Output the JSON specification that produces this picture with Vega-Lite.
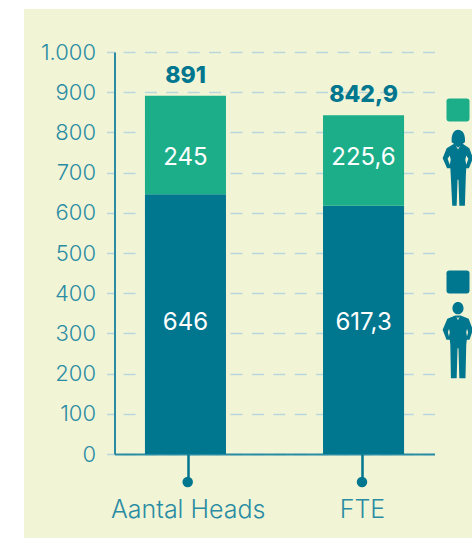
{
"$schema":"https://vega.github.io/schema/vega-lite/v6.json",
"width":448,"height":529,
"autosize":{"type":"none"},
"padding":{"left":24,"top":9,"right":0,"bottom":0},
"background":"#ffffff",
"config":{"view":{"fill":"#f2f4d6","stroke":null},"font":"Inter"},
"datasets":{
"bars":[
{"category":"Aantal Heads","series":"Man","value":646,"label":"646"},
{"category":"Aantal Heads","series":"Vrouw","value":245,"label":"245"},
{"category":"FTE","series":"Man","value":617.3,"label":"617,3"},
{"category":"FTE","series":"Vrouw","value":225.6,"label":"225,6"}],
"totals":[
{"category":"Aantal Heads","total":891,"label":"891"},
{"category":"FTE","total":842.9,"label":"842,9"}]
},
"resolve":{"scale":{"x":"independent"},"axis":{"x":"independent"}},
"layer":[
{"layer":[
{"data":{"name":"bars"},
 "mark":{"type":"bar"},
 "encoding":{
  "x":{"field":"category","type":"nominal","sort":["Aantal Heads","FTE"],
   "scale":{"type":"band","range":[90.5,410.5],"paddingInner":0.545,"paddingOuter":0.171},
   "axis":{"title":null,"labels":false,"ticks":false,"domain":true,"domainColor":"#2a8ca3","domainWidth":2,"offset":-84,"orient":"bottom"}},
  "y":{"field":"value","type":"quantitative","stack":"zero",
   "scale":{"domain":[0,1000],"range":[445,43],"nice":false},
   "axis":{"title":null,"values":[0,100,200,300,400,500,600,700,800,900,1000],"offset":-90.5,"orient":"left",
    "domain":true,"domainColor":"#2a8ca3","domainWidth":2,
    "ticks":true,"tickSize":8,"tickColor":"#b9d6dc","tickWidth":1.5,
    "grid":true,"gridColor":"#b9d6dc","gridWidth":1.5,"gridDash":[12,9.4],"gridDashOffset":12.9,
    "labelFont":"Inter","labelFontSize":22,"labelFontWeight":300,"labelColor":"#2a8ca3","labelPadding":11,
    "labelExpr":"replace(format(datum.value,','),',','.')"}},
  "color":{"field":"series","type":"nominal","scale":{"domain":["Man","Vrouw"],"range":["#00768f","#1bae89"]},"legend":null},
  "order":{"field":"series"}
 }},
{"data":{"name":"bars"},"transform":[{"filter":"datum.series==='Vrouw'"}],
 "mark":{"type":"text","color":"#ffffff","fontSize":24,"font":"Inter","fontWeight":400,"baseline":"middle"},
 "encoding":{"x":{"field":"category","type":"nominal","sort":["Aantal Heads","FTE"]},"y":{"datum":736},"text":{"field":"label"}}},
{"data":{"name":"bars"},"transform":[{"filter":"datum.series==='Man'"}],
 "mark":{"type":"text","color":"#ffffff","fontSize":24,"font":"Inter","fontWeight":400,"baseline":"middle"},
 "encoding":{"x":{"field":"category","type":"nominal","sort":["Aantal Heads","FTE"]},"y":{"datum":326},"text":{"field":"label"}}},
{"data":{"name":"totals"},
 "mark":{"type":"text","color":"#00768f","fontSize":23,"font":"Inter","fontWeight":800,"baseline":"bottom","dy":-8},
 "encoding":{"x":{"field":"category","type":"nominal","sort":["Aantal Heads","FTE"]},"y":{"field":"total","type":"quantitative"},"text":{"field":"label"}}}
]},
{"layer":[
{"data":{"name":"totals"},
 "mark":{"type":"point","filled":true,"color":"#00768f","opacity":1,"size":110,"yOffset":28},
 "encoding":{
  "x":{"field":"category","type":"nominal","sort":["Aantal Heads","FTE"],
   "scale":{"type":"point","range":[163.7,338],"padding":0},
   "axis":{"title":null,"orient":"bottom","offset":-84,"domain":false,"ticks":true,"tickSize":28,"tickWidth":2.5,"tickColor":"#00768f",
    "labelAngle":0,"labelFont":"Inter","labelFontSize":25,"labelFontWeight":300,"labelColor":"#2a8ca3","labelPadding":15,"labelFlush":false,"labelOverlap":false}},
  "y":{"datum":0,"type":"quantitative"}
 }}
]},
{"layer":[
{"data":{"values":[{"series":"Vrouw"}]},
 "mark":{"type":"point","filled":true,"color":"#1bae89","opacity":1,"size":529,"shape":"M-0.75,-1 L0.75,-1 Q1,-1 1,-0.75 L1,0.75 Q1,1 0.75,1 L-0.75,1 Q-1,1 -1,0.75 L-1,-0.75 Q-1,-1 -0.75,-1 Z"},
 "encoding":{"x":{"datum":"legend","type":"nominal","scale":{"type":"point","range":[434,434]},"axis":null},"y":{"datum":856,"type":"quantitative"}}},
{"data":{"values":[{"series":"Man"}]},
 "mark":{"type":"point","filled":true,"color":"#00768f","opacity":1,"size":529,"shape":"M-0.75,-1 L0.75,-1 Q1,-1 1,-0.75 L1,0.75 Q1,1 0.75,1 L-0.75,1 Q-1,1 -1,0.75 L-1,-0.75 Q-1,-1 -0.75,-1 Z"},
 "encoding":{"x":{"datum":"legend","type":"nominal","scale":{"type":"point","range":[434,434]},"axis":null},"y":{"datum":428,"type":"quantitative"}}},
{"data":{"values":[{"series":"Vrouw"}]},
 "mark":{"type":"point","filled":true,"color":"#00768f","opacity":1,"size":5880,"shape":"M-0.165,-0.678 C-0.18,-0.887 -0.104,-1 0,-1 C0.122,-1 0.2,-0.887 0.18,-0.678 L0.122,-0.635 L0.296,-0.522 L0.39,-0.261 L0.285,0 L0.215,0 L0.205,0.174 L0.18,0.983 L0.035,0.983 L0.012,0.304 L-0.012,0.304 L-0.035,0.983 L-0.15,0.983 L-0.19,0.174 L-0.2,0 L-0.285,0 L-0.4,-0.261 L-0.296,-0.522 L-0.104,-0.635 Z M0.215,-0.33 L0.19,-0.217 L0.215,-0.09 L0.27,-0.243 Z M-0.215,-0.33 L-0.27,-0.243 L-0.215,-0.09 L-0.19,-0.217 Z M-0.06,-0.591 L0,-0.49 L0.06,-0.591 L0,-0.53 Z"},
 "encoding":{"x":{"datum":"legend","type":"nominal","scale":{"type":"point","range":[433.3,433.3]},"axis":null},"y":{"datum":711,"type":"quantitative"}}},
{"data":{"values":[{"series":"Man"}]},
 "mark":{"type":"point","filled":true,"color":"#00768f","opacity":1,"size":5880,"shape":"M-0.145,-0.826 A0.145,0.16 0 1 1 0.145,-0.826 A0.145,0.16 0 1 1 -0.145,-0.826 Z M-0.07,-0.635 L0.07,-0.635 L0.278,-0.548 L0.39,-0.261 L0.3,0 L0.23,0 L0.215,0.13 L0.195,1 L0.035,1 L0.012,0.217 L-0.012,0.217 L-0.035,1 L-0.185,1 L-0.2,0.13 L-0.215,0 L-0.3,0 L-0.4,-0.261 L-0.278,-0.548 Z M0.235,-0.29 L0.215,-0.2 L0.235,-0.087 L0.262,-0.2 Z M-0.235,-0.29 L-0.262,-0.2 L-0.235,-0.087 L-0.215,-0.2 Z M-0.044,-0.61 L0,-0.51 L0.044,-0.61 L0,-0.565 Z"},
 "encoding":{"x":{"datum":"legend","type":"nominal","scale":{"type":"point","range":[433.3,433.3]},"axis":null},"y":{"datum":284,"type":"quantitative"}}}
]}
]
}
